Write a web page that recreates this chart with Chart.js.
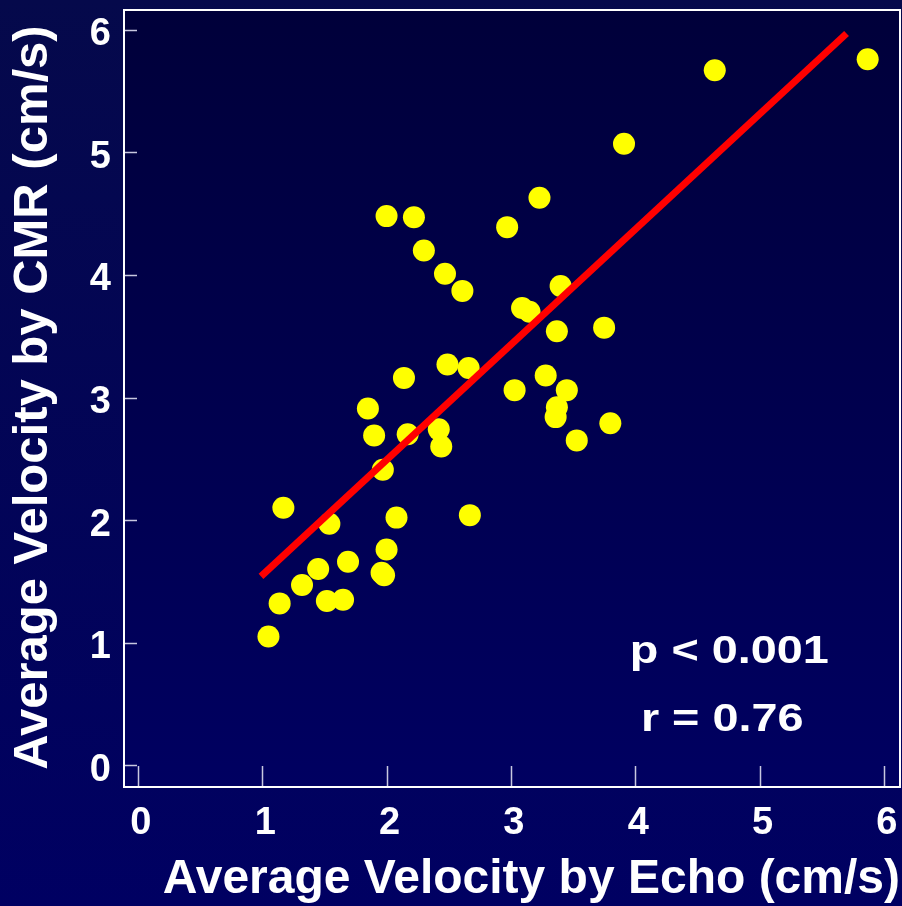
<!DOCTYPE html>
<html>
<head>
<meta charset="utf-8">
<title>Average Velocity: Echo vs CMR</title>
<script src="https://cdn.jsdelivr.net/npm/chart.js@4.4.1/dist/chart.umd.min.js"></script>
<style>
    html, body { margin: 0; padding: 0; background: #000050; }
    #velocityChart { display: block; }
</style>
</head>
<body>
<canvas id="velocityChart" width="902" height="906"></canvas>
<script>
// values (cm/s)
const echoVelocity = [
    1.05, 1.14, 1.17, 1.32, 1.45, 1.52, 1.65, 1.54, 1.69, 1.85,
    1.90, 1.97, 1.96, 1.98, 2.00, 2.08, 2.14, 2.17, 2.00, 2.22,
    2.30, 2.47, 2.61, 2.49, 2.66, 2.42, 2.44, 2.67, 2.97, 3.23,
    3.09, 3.15, 3.03, 3.28, 3.40, 3.37, 3.45, 3.37, 3.36, 3.53,
    3.75, 3.80, 3.91, 4.64, 5.87
];
const cmrVelocity = [
    1.05, 1.32, 2.10, 1.47, 1.60, 1.34, 1.35, 1.97, 1.66, 2.91,
    2.69, 2.41, 1.57, 1.55, 1.76, 2.02, 3.16, 2.70, 4.48, 4.47,
    4.20, 4.01, 3.87, 3.27, 3.24, 2.74, 2.60, 2.04, 4.39, 4.63,
    3.73, 3.70, 3.06, 3.18, 3.91, 3.54, 3.06, 2.92, 2.84, 2.65,
    3.57, 2.79, 5.07, 5.67, 5.76
];
// regression line end points
const fitEcho = [0.99, 5.70];
const fitCmr = [1.54, 5.97];

const xTicks = [0, 1, 2, 3, 4, 5, 6];
const yTicks = [0, 1, 2, 3, 4, 5, 6];
const statLabels = ['p < 0.001', 'r = 0.76'];

const scatterPoints = echoVelocity.map((x, i) => ({ x: x, y: cmrVelocity[i] }));
const fitPoints = fitEcho.map((x, i) => ({ x: x, y: fitCmr[i] }));

const FONT = '"Liberation Sans", Arial, Helvetica, sans-serif';

// slide background + darker plot area
const backgroundPlugin = {
    id: 'slideBackground',
    beforeDraw(chart) {
        const { ctx, width, height, chartArea: a } = chart;
        ctx.save();
        let g = ctx.createLinearGradient(0, 0, 0, height);
        g.addColorStop(0, '#05094b');
        g.addColorStop(1, '#000062');
        ctx.fillStyle = g;
        ctx.fillRect(0, 0, width, height);
        g = ctx.createLinearGradient(0, a.top, 0, a.bottom);
        g.addColorStop(0, '#00003a');
        g.addColorStop(1, '#000061');
        ctx.fillStyle = g;
        ctx.fillRect(a.left, a.top, a.right - a.left, a.bottom - a.top);
        ctx.restore();
    }
};

// white frame with tick marks pointing inward
const framePlugin = {
    id: 'frame',
    afterDraw(chart) {
        const { ctx, chartArea: a, scales } = chart;
        ctx.save();
        ctx.strokeStyle = '#c8c8e0';
        ctx.lineWidth = 1.5;
        ctx.beginPath();
        scales.y.ticks.forEach(t => {
            const y = Math.round(scales.y.getPixelForValue(t.value)) + 0.5;
            ctx.moveTo(a.left + 2, y);
            ctx.lineTo(a.left + 14, y);
        });
        scales.x.ticks.forEach(t => {
            const x = Math.round(scales.x.getPixelForValue(t.value)) + 0.5;
            ctx.moveTo(x, a.bottom);
            ctx.lineTo(x, a.bottom - 20);
        });
        ctx.stroke();
        ctx.strokeStyle = '#ffffff';
        ctx.lineWidth = 2;
        ctx.strokeRect(a.left + 1, a.top + 1, a.right - a.left - 1, a.bottom - a.top);
        ctx.restore();
    }
};

// p and r values inside the plot
const statsPlugin = {
    id: 'stats',
    afterDraw(chart, args, opts) {
        const { ctx, scales } = chart;
        ctx.save();
        ctx.fillStyle = '#ffffff';
        ctx.font = opts.font;
        ctx.textAlign = 'center';
        ctx.textBaseline = 'middle';
        statLabels.forEach((text, i) => {
            const px = scales.x.getPixelForValue(opts.anchors[i][0]);
            const py = scales.y.getPixelForValue(opts.anchors[i][1]);
            ctx.save();
            ctx.translate(px, py);
            ctx.scale(opts.stretch, 1);
            ctx.fillText(text, 0, 0);
            ctx.restore();
        });
        ctx.restore();
    }
};

new Chart(document.getElementById('velocityChart'), {
    type: 'scatter',
    data: {
        datasets: [
            {
                type: 'line',
                label: 'Regression',
                data: fitPoints,
                borderColor: '#ff0000',
                borderWidth: 7,
                pointRadius: 0,
                fill: false,
                tension: 0,
                order: 0
            },
            {
                label: 'Patients',
                data: scatterPoints,
                backgroundColor: '#ffff00',
                borderWidth: 0,
                pointRadius: 11,
                pointHoverRadius: 11,
                order: 1
            }
        ]
    },
    options: {
        responsive: false,
        animation: false,
        // no automatic room for point radius: the frame is fixed
        layout: { autoPadding: false, padding: { top: 9, right: 2, left: 0, bottom: 0 } },
        plugins: {
            legend: { display: false },
            tooltip: { enabled: false },
            stats: {
                font: 'bold 39px ' + FONT,
                stretch: 1.2,
                anchors: [[4.757, 0.918], [4.70, 0.367]]
            }
        },
        scales: {
            x: {
                type: 'linear',
                min: -0.12,
                max: 6.13,
                afterBuildTicks: s => { s.ticks = xTicks.map(v => ({ value: v })); },
                afterFit: s => { s.height = 120; s.paddingLeft = 0; s.paddingRight = 0; },
                grid: { display: false, drawTicks: false },
                border: { display: false },
                ticks: {
                    color: '#ffffff',
                    font: { family: FONT, size: 38, weight: 'bold', lineHeight: 1.2 },
                    padding: 15,
                    labelOffset: 3,
                    maxRotation: 0,
                    autoSkip: false
                },
                title: {
                    display: true,
                    text: 'Average Velocity by Echo (cm/s)',
                    align: 'end',
                    color: '#ffffff',
                    font: { family: FONT, size: 48, weight: 'bold', lineHeight: 1 },
                    padding: { top: 0, bottom: 2 }
                }
            },
            y: {
                type: 'linear',
                min: -0.17,
                max: 6.17,
                afterBuildTicks: s => { s.ticks = yTicks.map(v => ({ value: v })); },
                afterFit: s => { s.width = 123; s.paddingTop = 0; s.paddingBottom = 0; },
                grid: { display: false, drawTicks: false },
                border: { display: false },
                ticks: {
                    color: '#ffffff',
                    font: { family: FONT, size: 38, weight: 'bold', lineHeight: 1.2 },
                    padding: 12,
                    labelOffset: 5,
                    autoSkip: false
                },
                title: {
                    display: true,
                    text: 'Average Velocity by CMR (cm/s)',
                    color: '#ffffff',
                    font: { family: FONT, size: 49, weight: 'bold', lineHeight: 1.2 },
                    padding: { top: 4, bottom: 0 }
                }
            }
        }
    },
    plugins: [backgroundPlugin, framePlugin, statsPlugin]
});
</script>
</body>
</html>
